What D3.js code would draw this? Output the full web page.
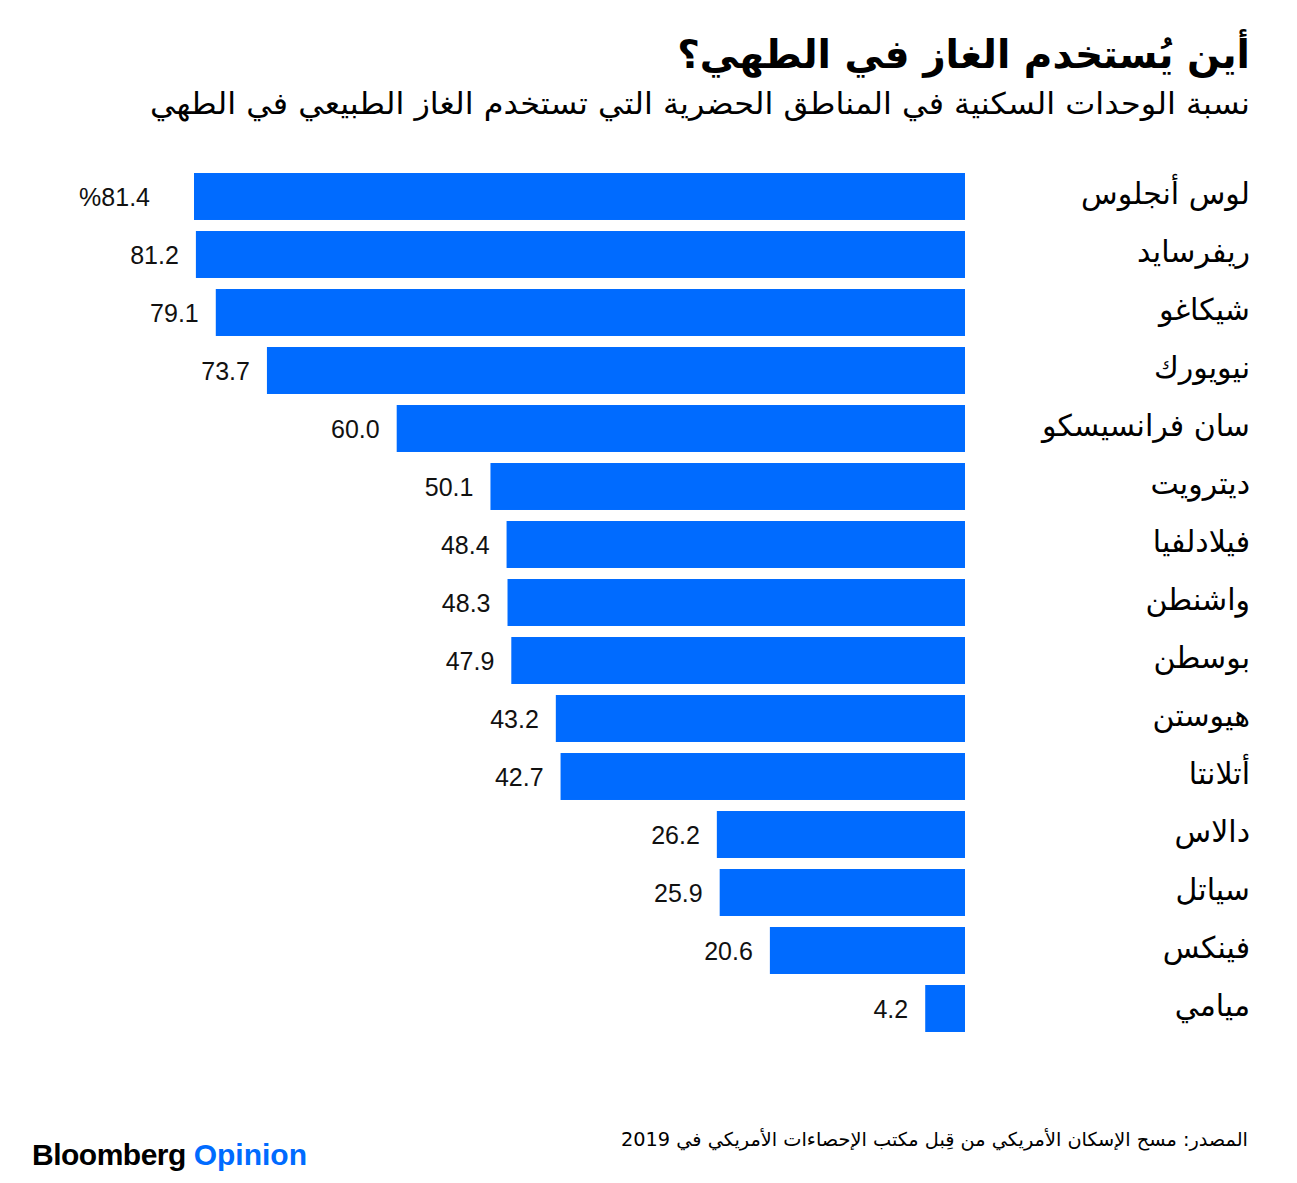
<!DOCTYPE html>
<html><head><meta charset="utf-8">
<script src="https://cdn.jsdelivr.net/npm/d3@7"></script>
<style>body{margin:0;background:#fff}svg{display:block}</style>
</head><body>
<script>
const cities = ["لوس أنجلوس","ريفرسايد","شيكاغو","نيويورك","سان فرانسيسكو","ديترويت","فيلادلفيا","واشنطن","بوسطن","هيوستن","أتلانتا","دالاس","سياتل","فينكس","ميامي"];
const values = [81.4,81.2,79.1,73.7,60.0,50.1,48.4,48.3,47.9,43.2,42.7,26.2,25.9,20.6,4.2];
const titleText = "أين يُستخدم الغاز في الطهي؟";
const subtitleText = "نسبة الوحدات السكنية في المناطق الحضرية التي تستخدم الغاز الطبيعي في الطهي";
const sourceText = "المصدر: مسح الإسكان الأمريكي من قِبل مكتب الإحصاءات الأمريكي في 2019";

const W = 1297, H = 1183;
const arabicFont = "'DejaVu Sans', 'Noto Sans', sans-serif";
const numFont = "'Liberation Sans', Arial, sans-serif";
const blue = "#006BFF";

const svg = d3.select("body").append("svg").attr("width", W).attr("height", H);
svg.append("rect").attr("width", W).attr("height", H).attr("fill", "#fff");

const x = d3.scaleLinear().domain([0, 81.4]).range([965, 194]);
const y = d3.scaleBand().domain(cities).range([167.5, 1037.5]).paddingInner(0.19).paddingOuter(0.095);

svg.append("text").attr("x", 1250).attr("y", 68).attr("direction","rtl").attr("text-anchor","start")
  .attr("font-family", arabicFont).attr("font-weight","bold").attr("font-size", 39).attr("fill","#000").text(titleText);
svg.append("text").attr("x", 1250).attr("y", 114).attr("direction","rtl").attr("text-anchor","start")
  .attr("font-family", arabicFont).attr("font-size", 30)
  .attr("textLength", 1100).attr("lengthAdjust","spacingAndGlyphs")
  .attr("fill","#000").text(subtitleText);

svg.selectAll("rect.bar").data(values).join("rect").attr("class","bar")
  .attr("x", d => x(d)).attr("width", d => x(0) - x(d))
  .attr("y", (d,i) => y(cities[i])).attr("height", y.bandwidth()).attr("fill", blue);

const fmt = d3.format(".1f");
svg.selectAll("text.val").data(values).join("text").attr("class","val")
  .attr("x", (d,i) => x(d) - (i === 0 ? 44 : 17))
  .attr("y", (d,i) => y(cities[i]) + y.bandwidth()/2)
  .attr("dy", "0.36em").attr("text-anchor","end")
  .attr("font-family", numFont).attr("font-size", 25).attr("fill","#111")
  .text((d,i) => (i === 0 ? "%" : "") + fmt(d));

svg.selectAll("text.cat").data(cities).join("text").attr("class","cat")
  .attr("x", 1250).attr("y", d => y(d) + y.bandwidth()/2)
  .attr("dy","0.25em").attr("direction","rtl").attr("text-anchor","start")
  .attr("font-family", arabicFont).attr("font-size", 30).attr("fill","#000").text(d => d);

svg.append("text").attr("x", 1248).attr("y", 1146).attr("direction","rtl").attr("text-anchor","start")
  .attr("font-family", arabicFont).attr("font-size", 19)
  .attr("textLength", 627).attr("lengthAdjust","spacingAndGlyphs")
  .attr("fill","#000").text(sourceText);

const logo = svg.append("text").attr("x", 32).attr("y", 1165)
  .attr("font-family", numFont).attr("font-weight","bold").attr("font-size", 30);
logo.append("tspan").attr("fill","#000").attr("letter-spacing","-0.5").text("Bloomberg ");
logo.append("tspan").attr("fill", blue).text("Opinion");
</script>
</body></html>
